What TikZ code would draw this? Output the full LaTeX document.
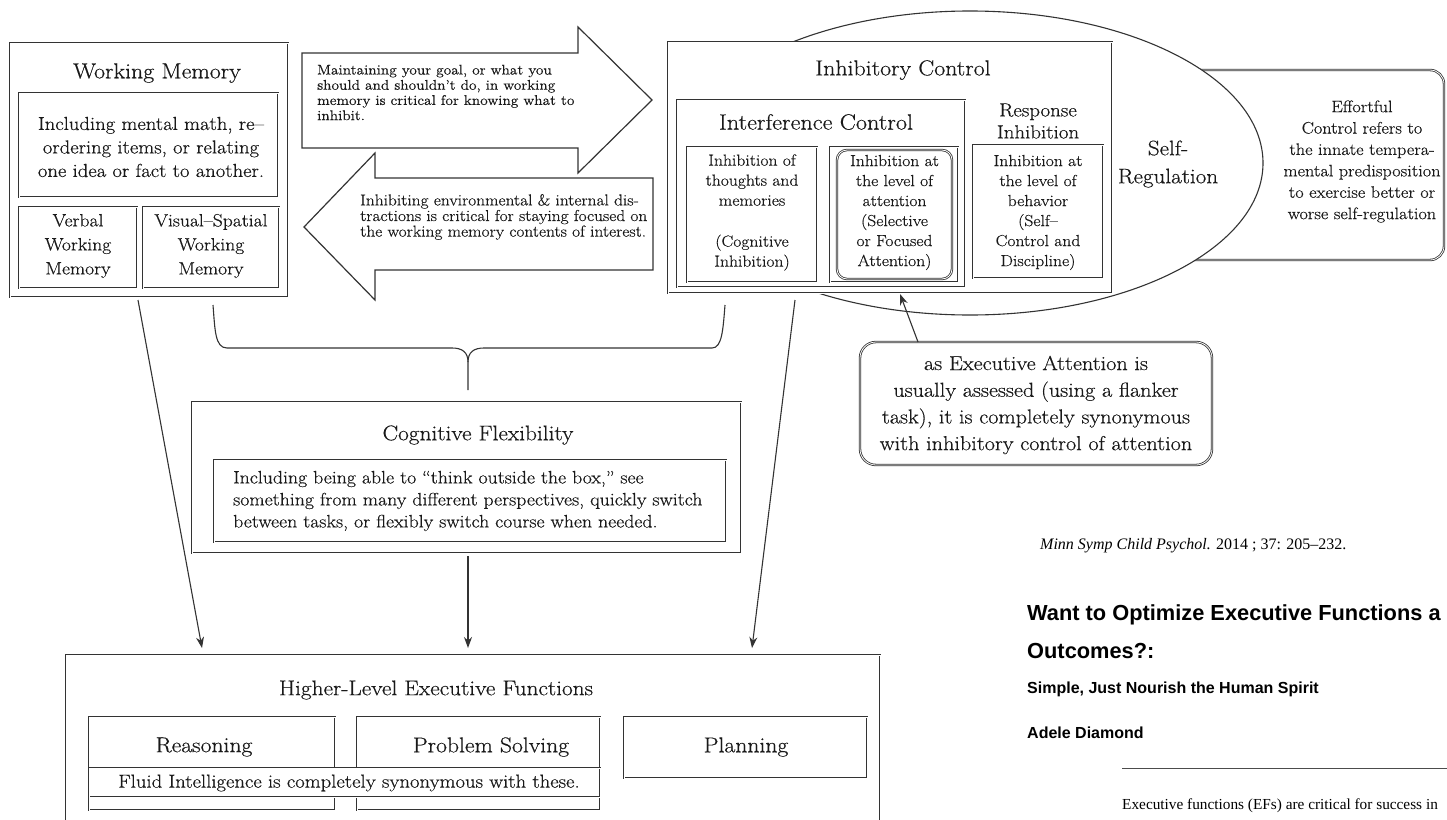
\documentclass[tikz,border=0pt]{standalone}
\usepackage{fontspec}
\setmainfont{Latin Modern Roman}[FakeStretch=1.1, FakeBold=0.4]
\newfontfamily\lsans{Liberation Sans}
\newfontfamily\lserif{Liberation Serif}
\usetikzlibrary{arrows.meta,shapes.geometric}
\definecolor{lc}{gray}{0.2}
\definecolor{tc}{gray}{0.1}
\newcommand\fsz[2]{\fontsize{#1}{#2}\selectfont}
\tikzset{
  bx/.style={draw=lc, line width=0.8pt, double=white, double distance=0.8pt, fill=white, inner sep=0pt, outer sep=0pt, anchor=north west},
  ln/.style={draw=lc, line width=1.1pt},
  arr/.style={ln, -{Stealth[length=11pt,width=8pt]}},
  txt/.style={text=tc, inner sep=0pt, align=center},
  ttl/.style={txt, font=\fsz{21.7}{26}},
  sm/.style={txt, font=\fsz{16}{20}},
}
\begin{document}
\begin{tikzpicture}[x=1pt,y=-1pt]
\useasboundingbox (0,0) rectangle (1447,819);
\fill[white] (0,0) rectangle (1447,819);

% ---------- Effortful control, self-regulation ellipse ----------
\node[bx, rounded corners=14, minimum width=294, minimum height=190] (ef) at (1150,70) {};
\node[txt, font=\fsz{16.6}{21.4}] (eft) at (1362,161.5) {Effortful\\Control refers to\\the innate tempera-\\mental predisposition\\to exercise better or\\worse self-regulation};
\begin{scope}
  \clip (668,0) rectangle (1447,819);
  \node[ellipse, draw=lc, line width=1.1pt, fill=white, minimum width=586, minimum height=304, inner sep=0pt] (sr) at (970,163) {};
\end{scope}
\node[txt, font=\fsz{21}{28}] (srt) at (1168,164) {Self-\\Regulation};

% ---------- Inhibitory control ----------
\node[bx, minimum width=444, minimum height=251] (ic) at (668,42) {};
\node[ttl] (ict) at (903,70) {Inhibitory Control};
\node[bx, minimum width=288, minimum height=187] (itf) at (677,100) {};
\node[ttl, font=\fsz{22}{26}] (itft) at (816,122) {Interference Control};
\node[bx, minimum width=130, minimum height=135] (cog) at (687,147) {};
\node[sm] (cogt) at (752,212.5) {Inhibition of\\thoughts and\\memories\\[21pt](Cognitive\\Inhibition)};
\node[bx, minimum width=128, minimum height=135] (att) at (830,147) {};
\node[bx, rounded corners=10, minimum width=115, minimum height=129] (atti) at (837,150) {};
\node[sm] (attt) at (894.5,212.5) {Inhibition at\\the level of\\attention\\(Selective\\or Focused\\Attention)};
\node[txt, font=\fsz{19}{22}] (rit) at (1038,121) {Response\\Inhibition};
\node[bx, minimum width=130, minimum height=133] (ri) at (973,145) {};
\node[sm] (rit2) at (1038,212.5) {Inhibition at\\the level of\\behavior\\(Self--\\Control and\\Discipline)};

% ---------- Executive attention ----------
\node[bx, rounded corners=16, minimum width=352, minimum height=123] (ea) at (860,342) {};
\node[txt, font=\fsz{20.2}{26.7}] (eat) at (1036,405) {as Executive Attention is\\usually assessed (using a flanker\\task), it is completely synonymous\\with inhibitory control of attention};
\coordinate (eaTop) at (918,342);
\coordinate (attBot) at (900,294);
\draw[arr] (eaTop) -- (attBot);

% ---------- Working memory ----------
\node[bx, minimum width=278, minimum height=254] (wm) at (10,43) {};
\node[ttl] (wmt) at (157,73) {Working Memory};
\node[bx, minimum width=259, minimum height=104] (wmi) at (19,93) {};
\node[txt, font=\fsz{18.8}{23.5}] (wmit) at (151,147) {Including mental math, re--\\ordering items, or relating\\one idea or fact to another.};
\node[bx, minimum width=118, minimum height=81] (vw) at (19,207) {};
\node[txt, font=\fsz{17.8}{24}] (vwt) at (78,246) {Verbal\\Working\\Memory};
\node[bx, minimum width=136, minimum height=81] (vs) at (143,207) {};
\node[txt, font=\fsz{17.8}{24}] (vst) at (211,246) {Visual--Spatial\\Working\\Memory};

% ---------- Big arrows ----------
\draw[ln, line width=1.2pt, fill=white] (302,53) -- (578,53) -- (578,27) -- (652,100) -- (578,173) -- (578,148) -- (302,148) -- cycle;
\node[txt, align=left, anchor=west, font=\fsz{14}{15.2}] (a1t) at (317,92.5) {Maintaining your goal, or what you\\should and shouldn't do, in working\\memory is critical for knowing what to\\inhibit.};
\draw[ln, line width=1.2pt, fill=white] (375,178) -- (653,178) -- (653,270) -- (375,270) -- (375,300) -- (304,227) -- (375,153) -- cycle;
\node[txt, align=left, anchor=west, font=\fsz{15.8}{15.6}] (a2t) at (360,217) {Inhibiting environmental \& internal dis-\\tractions is critical for staying focused on\\the working memory contents of interest.};

% ---------- Brace ----------
\coordinate (bl) at (213,305);
\coordinate (br) at (725,305);
\coordinate (bc) at (468,390);
\draw[ln] (bl) .. controls (215,330) and (215,348) .. (227,348) -- (452,348)
   .. controls (462,348) and (468,352) .. (468,362) -- (bc);
\draw[ln] (468,362) .. controls (468,352) and (474,348) .. (484,348) -- (712,348)
   .. controls (722,348) and (723,330) .. (br);

% ---------- Cognitive flexibility ----------
\node[bx, minimum width=549, minimum height=151] (cf) at (192,402) {};
\node[ttl, font=\fsz{21.2}{26}] (cft) at (478,435) {Cognitive Flexibility};
\node[bx, minimum width=512, minimum height=82] (cfi) at (214,460) {};
\node[txt, align=left, anchor=west, font=\fsz{18}{22}] (cfit) at (233,501) {Including being able to “think outside the box,” see\\something from many different perspectives, quickly switch\\between tasks, or flexibly switch course when needed.};

% ---------- Higher-level EFs ----------
\node[bx, minimum width=814, minimum height=200] (hl) at (66,655) {};
\node[txt, font=\fsz{21.2}{24}] (hlt) at (436,690) {Higher-Level Executive Functions};
\node[bx, minimum width=246, minimum height=93] (rs) at (89,717) {};
\node[bx, minimum width=243, minimum height=93] (ps) at (357,717) {};
\node[bx, minimum width=243, minimum height=61] (pl) at (624,717) {};
\node[ttl, font=\fsz{21.5}{26}] (rst) at (204,747) {Reasoning};
\node[ttl, font=\fsz{21.5}{26}] (pst) at (491,747) {Problem Solving};
\node[ttl, font=\fsz{21.5}{26}] (plt) at (746,747) {Planning};
\node[bx, minimum width=511, minimum height=29] (fl) at (89,768) {};
\node[txt, font=\fsz{18.8}{22}] (flt) at (349,783) {Fluid Intelligence is completely synonymous with these.};

% ---------- Connectors to higher-level EFs ----------
\coordinate (wmOut) at (138,300);
\coordinate (wmIn) at (202,648);
\coordinate (cfOut) at (468,556);
\coordinate (cfIn) at (468,648);
\coordinate (icOut) at (795,300);
\coordinate (icIn) at (752,648);
\draw[arr] (wmOut) -- (wmIn);
\draw[arr] (cfOut) -- (cfIn);
\draw[arr] (icOut) -- (icIn);

% ---------- Paper text on the right ----------
\node[anchor=base west, inner sep=0pt, font=\lserif\fsz{16}{19}] (cit) at (1040,549) {\textit{Minn Symp Child Psychol.} 2014 ; 37: 205–232.};
\node[anchor=base west, inner sep=0pt, font=\lsans\bfseries\fsz{21.8}{26}] (ti1) at (1027,620) {Want to Optimize Executive Functions a};
\node[anchor=base west, inner sep=0pt, font=\lsans\bfseries\fsz{21.8}{26}] (ti2) at (1027,658) {Outcomes?:};
\node[anchor=base west, inner sep=0pt, font=\lsans\bfseries\fsz{16}{19}] (sub) at (1027,693) {Simple, Just Nourish the Human Spirit};
\node[anchor=base west, inner sep=0pt, font=\lsans\bfseries\fsz{16}{19}] (aut) at (1027,738) {Adele Diamond};
\coordinate (rl1) at (1122,768);
\coordinate (rl2) at (1447,768);
\draw[draw=black!70, line width=1pt] (rl1) -- (rl2);
\node[anchor=base west, inner sep=0pt, font=\lserif\fsz{15.3}{19}] (abs) at (1122,809) {Executive functions (EFs) are critical for success in};
\end{tikzpicture}
\end{document}
